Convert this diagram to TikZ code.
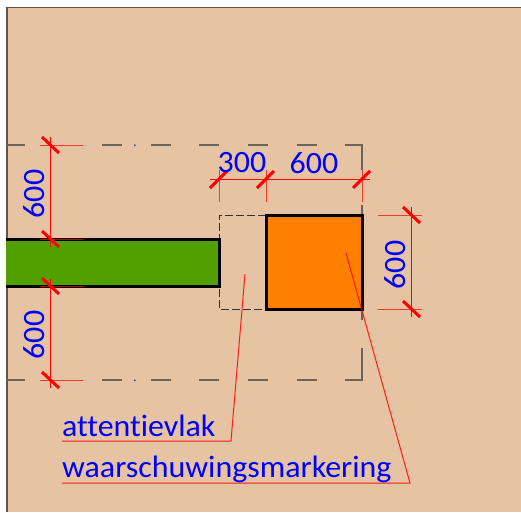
\documentclass[tikz,border=0pt]{standalone}
\usepackage{fontspec}
\setmainfont[Ligatures=NoCommon,RawFeature={-liga;-clig;-dlig},FakeStretch=1.03]{Carlito}
\definecolor{ground}{HTML}{E5C3A3}
\definecolor{wallgreen}{HTML}{52A000}
\definecolor{markorange}{HTML}{FF8000}
\definecolor{edgegrey}{HTML}{5E564E}
\definecolor{dashgrey}{HTML}{6B6258}
\tikzset{
  dimline/.style={draw=red,line width=1pt},
  extline/.style={draw=red,line width=1pt,opacity=0.7},
  ticka/.style={draw=red,line width=3pt},
  leader/.style={draw=red,line width=1pt,opacity=0.85},
  solidbox/.style={draw=black,line width=3pt},
  outline/.style={draw=dashgrey,line width=1.2pt},
  thindash/.style={draw=black!80,line width=1pt,dash pattern=on 8pt off 3pt},
  lbl/.style={text=blue,font=\fontsize{31}{31}\selectfont,inner sep=0pt},
}
\begin{document}
\begin{tikzpicture}[x=1pt,y=-1pt]
\useasboundingbox (0,0) rectangle (521,512);
% ground
\fill[white] (0,0) rectangle (521,512);
\fill[ground] (7,7) rectangle (521,512);
\draw[edgegrey,line width=1.4pt] (7,512) -- (7,7.5) -- (521,7.5);
% outer dash-dot outline
\draw[outline] (7,145) -- (25,145) (102,145) -- (122,145) (151,145) -- (171,145) (199,145) -- (219,145) (248,145) -- (268,145) (297,145) -- (317,145) (345,145) -- (362,145) -- (362,170);
\draw[outline] (362,205) -- (362,215) (362,309) -- (362,320) (362,348) -- (362,380) -- (345,380) (317,380) -- (297,380) (268,380) -- (248,380) (219,380) -- (199,380) (171,380) -- (151,380) (122,380) -- (102,380) (25,380) -- (7,380);
\fill[blue!60!gray] (134,144.5) rectangle (135.5,146) (134,379.5) rectangle (135.5,381);
% attention area
\draw[thindash] (266,215) -- (219,215) -- (219,309) -- (266,309);
% green and orange boxes
\draw[solidbox,fill=wallgreen] (6,239) -- (219,239) -- (219,286) -- (6,286);
\draw[solidbox,fill=markorange] (266,215) rectangle (362,309);
% left dimensions
\draw[dimline] (50.5,137) -- (50.5,247) (50.5,279) -- (50.5,388);
\draw[extline] (40,145) -- (83,145) (40,380) -- (83,380);
\draw[extline] (40,239) -- (83,239) (40,286) -- (83,286);
\foreach \yy in {145,239,286,380}
  \draw[ticka] (42,\yy-8) -- (59,\yy+8);
% top dimension
\draw[dimline] (210,179.5) -- (370,179.5);
\draw[extline] (219,170) -- (219,202) (266,170) -- (266,202) (362,170) -- (362,202);
\foreach \xx in {219,266,362}
  \draw[ticka] (\xx-9,188) -- (\xx+8,171);
% right dimension
\draw[dimline] (411.5,207) -- (411.5,317);
\draw[extline] (378,215) -- (422,215) (378,309) -- (422,309);
\foreach \yy in {215,309}
  \draw[ticka] (403,\yy-8) -- (420,\yy+8);
% leaders
\coordinate (la) at (245,274);
\coordinate (lb) at (231,441);
\coordinate (lc) at (62,441);
\coordinate (ma) at (346,253);
\coordinate (mb) at (410,483);
\coordinate (mc) at (62,483);
\draw[leader] (la) -- (lb) -- (lc);
\draw[leader] (ma) -- (mb) -- (mc);
% labels
\node[lbl,rotate=90] (d1) at (34,194) {600};
\node[lbl,rotate=90] (d2) at (34,335) {600};
\node[lbl,rotate=90] (d3) at (395,265) {600};
\node[lbl] (d4) at (242,163) {300};
\node[lbl] (d5) at (314,163) {600};
\node[lbl,anchor=base west] (t1) at (62,436) {attentievlak};
\node[lbl,anchor=base west] (t2) at (62,477) {waarschuwingsmarkering};
\end{tikzpicture}
\end{document}
